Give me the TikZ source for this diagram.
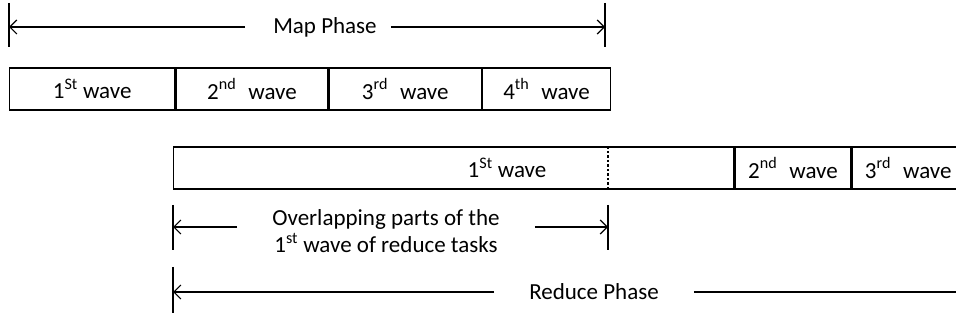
\documentclass[tikz,border=0pt]{standalone}
\usepackage{fontspec}
\setmainfont{Carlito}
\usetikzlibrary{arrows.meta}

\tikzset{
  cell/.style={draw, line width=1.3pt, minimum height=42pt, inner sep=0pt, anchor=west},
  dimline/.style={line width=1.2pt, -{Straight Barb[length=7pt,width=14pt,line width=1.2pt]}},
  tickline/.style={line width=1.2pt},
}

\begin{document}
\begin{tikzpicture}[x=1pt,y=-1pt,font=\fontsize{23}{27}\selectfont]
  \useasboundingbox (0,0) rectangle (956,320);
  \clip (0,0) rectangle (956,320);
  % Map phase span
  \node[inner xsep=14pt] (mapph) at (325,27) {Map Phase};
  \coordinate (ml) at (9,27);
  \coordinate (mr) at (605,27);
  \draw[tickline] ([yshift=24pt]ml) -- ([yshift=-20pt]ml);
  \draw[tickline] ([yshift=24pt]mr) -- ([yshift=-20pt]mr);
  \draw[dimline,shorten <=14pt] (mapph.west) -- (ml);
  \draw[dimline] (mapph.east) -- (mr);
  % Map waves
  \node[cell, minimum width=165pt] (m1) at (9,89) {1\textsuperscript{St} wave};
  \node[cell, minimum width=152pt] (m2) at (m1.east) {2\textsuperscript{nd}\hspace{0.3em} wave};
  \node[cell, minimum width=152pt] (m3) at (m2.east) {3\textsuperscript{rd}\hspace{0.3em} wave};
  \node[cell, minimum width=128pt] (m4) at (m3.east) {4\textsuperscript{th}\hspace{0.3em} wave};
  % Reduce waves
  \node[cell, minimum width=560pt] (r1) at (173,168) {};
  \node (r1lab) at (507,168) {1\textsuperscript{St} wave};
  \draw[line width=1.4pt, dash pattern=on 2.5pt off 2pt] ([xshift=435pt]r1.north west) -- ([xshift=435pt]r1.south west);
  \node[cell, minimum width=116pt] (r2) at (r1.east) {2\textsuperscript{nd}\hspace{0.3em} wave};
  \node[cell, minimum width=112pt] (r3) at (r2.east) {3\textsuperscript{rd}\hspace{0.3em} wave};
  % Overlapping parts
  \node[align=center, inner xsep=35pt] (ovl) at (386,231) {Overlapping parts of the\\1\textsuperscript{st} wave of reduce tasks};
  \coordinate (ol) at (173,227);
  \coordinate (or) at (608,227);
  \draw[tickline] ([yshift=22pt]ol) -- ([yshift=-23pt]ol);
  \draw[tickline] ([yshift=22pt]or) -- ([yshift=-23pt]or);
  \draw[dimline] (ovl.west |- ol) -- (ol);
  \draw[dimline] (ovl.east |- or) -- (or);
  % Reduce phase span
  \node[inner xsep=35pt] (redph) at (594,292) {Reduce Phase};
  \coordinate (rl) at (173,292);
  \coordinate (rr) at (975,292);
  \draw[tickline] ([yshift=25pt]rl) -- ([yshift=-21pt]rl);
  \draw[dimline] (redph.west) -- (rl);
  \draw[dimline] (redph.east) -- (rr);
\end{tikzpicture}
\end{document}
